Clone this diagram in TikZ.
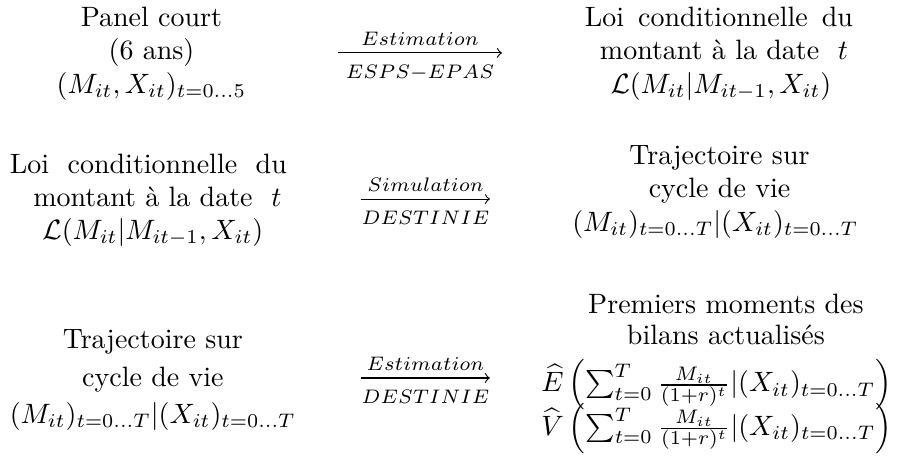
\documentclass[tikz,border=0pt]{standalone}
\usepackage{amsmath}
\usetikzlibrary{calc}
\begin{document}
\begin{tikzpicture}[x=1pt,y=1pt,
  txt/.style={anchor=base,inner sep=0pt,font=\normalsize},
  lab/.style={anchor=base,inner sep=0pt},
  flow/.style={->,line width=0.4pt}]
\useasboundingbox (0,0) rectangle (320.4,-167.1);
% Row 1
\node[txt] (l1a) at (54.1,-9.3) {Panel court};
\node[txt] (l1b) at (54.1,-21.3) {(6 ans)};
\node[txt] (l1c) at (54.1,-33.5) {$(M_{it},X_{it})_{t=0\ldots5}$};
\node[txt] (r1a) at (256.8,-9.3) {Loi\hspace{5pt}conditionnelle\hspace{5pt}du};
\node[txt] (r1b) at (258.6,-21.3) {montant à la date \ $t$};
\node[txt] (r1c) at (257.5,-33.5) {$\mathcal{L}(M_{it}|M_{it-1},X_{it})$};
\coordinate (a1s) at (120.7,-18.9);
\coordinate (a1e) at (179.3,-18.9);
\draw[flow] (a1s) -- (a1e);
\node[lab] (a1t) at ($(a1s)!0.5!(a1e)+(0,2.6)$) {$\scriptstyle Estimation$};
\node[lab] (a1b) at ($(a1s)!0.5!(a1e)+(0,-9)$) {$\scriptstyle ESPS-EPAS$};
% Row 2
\node[txt] (l2a) at (53,-61.8) {Loi\hspace{6.6pt}conditionnelle\hspace{6.6pt}du};
\node[txt] (l2b) at (56.2,-73.6) {montant à la date \ $t$};
\node[txt] (l2c) at (54.6,-85.4) {$\mathcal{L}(M_{it}|M_{it-1},X_{it})$};
\node[txt] (r2a) at (257,-58.6) {Trajectoire sur};
\node[txt] (r2b) at (257,-70.6) {cycle de vie};
\node[txt] (r2c) at (255.5,-82.6) {$(M_{it})_{t=0\ldots T}|(X_{it})_{t=0\ldots T}$};
\coordinate (a2s) at (129,-71.1);
\coordinate (a2e) at (175,-71.1);
\draw[flow] (a2s) -- (a2e);
\node[lab] (a2t) at ($(a2s)!0.5!(a2e)+(0,2.6)$) {$\scriptstyle Simulation$};
\node[lab] (a2b) at ($(a2s)!0.5!(a2e)+(0,-9)$) {$\scriptstyle DESTINIE$};
% Row 3
\node[txt] (l3a) at (54.6,-124.6) {Trajectoire sur};
\node[txt] (l3b) at (54.6,-137.9) {cycle de vie};
\node[txt] (l3c) at (54.6,-151.1) {$(M_{it})_{t=0\ldots T}|(X_{it})_{t=0\ldots T}$};
\node[txt] (r3a) at (259.3,-111.8) {Premiers moments des};
\node[txt] (r3b) at (259.3,-123.2) {bilans actualisés};
\node[txt] (r3c) at (256,-140) {$\widehat{E}\,\Bigl(\sum_{t=0}^T \frac{M_{it}}{(1+r)^t}|(X_{it})_{t=0\ldots T}\Bigr)$};
\node[txt] (r3d) at (256,-155.4) {$\widehat{V}\,\Bigl(\sum_{t=0}^T \frac{M_{it}}{(1+r)^t}|(X_{it})_{t=0\ldots T}\Bigr)$};
\coordinate (a3s) at (129,-135);
\coordinate (a3e) at (175,-135);
\draw[flow] (a3s) -- (a3e);
\node[lab] (a3t) at ($(a3s)!0.5!(a3e)+(0,2.6)$) {$\scriptstyle Estimation$};
\node[lab] (a3b) at ($(a3s)!0.5!(a3e)+(0,-9)$) {$\scriptstyle DESTINIE$};
\end{tikzpicture}
\end{document}
